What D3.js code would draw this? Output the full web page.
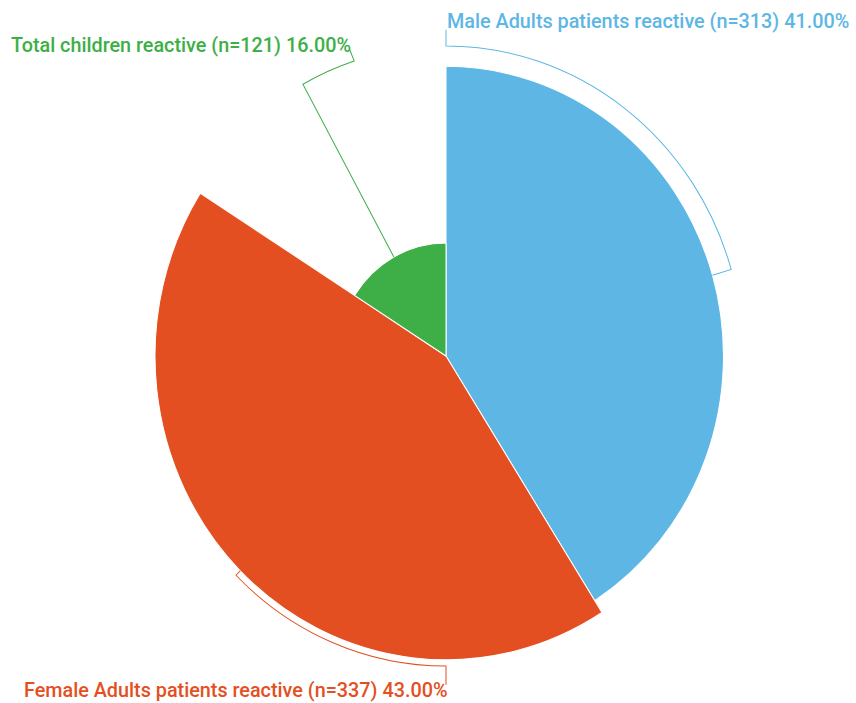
<!DOCTYPE html>
<html>
<head>
<meta charset="utf-8">
<script src="https://cdn.jsdelivr.net/npm/d3@7/dist/d3.min.js"></script>
<style>
  html, body { margin: 0; padding: 0; background: #ffffff; }
  svg { display: block; }
  text { font-family: Roboto, "Noto Sans", sans-serif; font-weight: 500; }
</style>
</head>
<body>
<svg id="chart" width="856" height="703"></svg>
<script>
// Reactive cases by patient group
const categories = [
  "Male Adults patients reactive",
  "Female Adults patients reactive",
  "Total children reactive"
];
const counts = [313, 337, 121];
const percents = [41, 43, 16];
const colors = ["#5EB6E5", "#E44F22", "#3DAF46"];

// Where each label sits relative to the rose (angle in degrees, clockwise from 12 o'clock)
const labelPlacement = [
  { angle: 0,   end: [446, 28.5],  anchor: "start", text: [447, 26.5] },
  { angle: 180, end: [446, 656],   anchor: "end",   text: [447.5, 667.5] },
  { angle: 342, end: [349.5, 47],  anchor: "end",   text: [351, 49.5] }
];

const W = 856, H = 703;
const cx = 446, cy = 341;
const maxR = 291, lineR = 297;
const yStretch = 1.044;

const svg = d3.select("#chart");
const root = svg.append("g").attr("transform", `scale(1,${yStretch})`);

const data = categories.map((c, i) => ({ name: c, n: counts[i], pct: percents[i], color: colors[i], lbl: labelPlacement[i] }));

const pie = d3.pie().value(d => d.pct).sort(null);
const rScale = d3.scaleLinear().domain([0, d3.max(percents)]).range([0, maxR]);
const arcs = pie(data);

const arcGen = d3.arc().innerRadius(0).outerRadius(d => rScale(d.data.pct));

const g = root.append("g").attr("transform", `translate(${cx},${cy})`);
g.selectAll("path.slice")
  .data(arcs)
  .join("path")
  .attr("class", "slice")
  .attr("d", arcGen)
  .attr("fill", d => d.data.color)
  .attr("stroke", "#ffffff")
  .attr("stroke-width", 1)
  .attr("stroke-linejoin", "round");

const polar = (r, a) => [cx + r * Math.sin(a), cy - r * Math.cos(a)];
const deg = Math.PI / 180;

// Leader lines: radial out to a common ring, along the ring, then to the label
root.selectAll("path.leader")
  .data(arcs)
  .join("path")
  .attr("class", "leader")
  .attr("fill", "none")
  .attr("stroke", d => d.data.color)
  .attr("stroke-width", 1)
  .attr("d", d => {
    const mid = (d.startAngle + d.endAngle) / 2;
    const r = rScale(d.data.pct);
    const la = d.data.lbl.angle * deg;
    const p0 = polar(r, mid);
    const p = d3.path();
    p.moveTo(p0[0], p0[1]);
    const p1 = polar(lineR, mid);
    p.lineTo(p1[0], p1[1]);
    // canvas-style angles: 0 at 3 o'clock
    p.arc(cx, cy, lineR, mid - Math.PI / 2, la - Math.PI / 2, la < mid);
    p.lineTo(d.data.lbl.end[0], d.data.lbl.end[1]);
    return p.toString();
  });

root.selectAll("text.label")
  .data(arcs)
  .join("text")
  .attr("class", "label")
  .attr("x", d => d.data.lbl.text[0])
  .attr("y", d => d.data.lbl.text[1])
  .attr("text-anchor", d => d.data.lbl.anchor)
  .attr("fill", d => d.data.color)
  .attr("font-size", 19.8)
  .text(d => `${d.data.name} (n=${d.data.n}) ${d3.format(".2f")(d.data.pct)}%`);
</script>
</body>
</html>
